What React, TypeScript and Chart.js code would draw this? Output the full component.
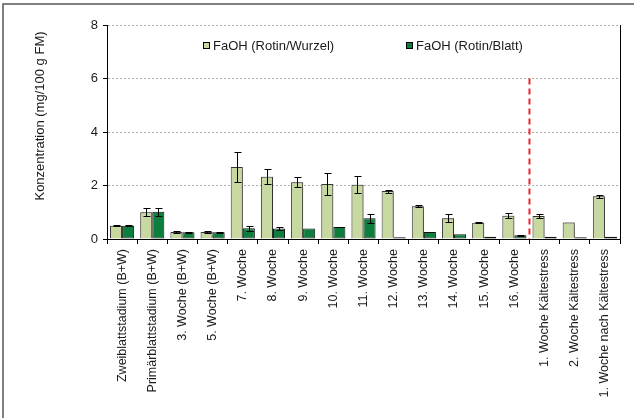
import React, { useEffect, useRef } from "react";
import { Chart, registerables } from "chart.js";

Chart.register(...registerables);

const categories = [
  "Zweiblattstadium (B+W)",
  "Primärblattstadium (B+W)",
  "3. Woche (B+W)",
  "5. Woche (B+W)",
  "7. Woche",
  "8. Woche",
  "9. Woche",
  "10. Woche",
  "11. Woche",
  "12. Woche",
  "13. Woche",
  "14. Woche",
  "15. Woche",
  "16. Woche",
  "1. Woche Kältestress",
  "2. Woche Kältestress",
  "1. Woche nach Kältestress",
];

const wurzelValues = [0.5, 1.0, 0.26, 0.26, 2.69, 2.33, 2.12, 2.06, 2.03, 1.79, 1.22, 0.78, 0.61, 0.87, 0.86, 0.62, 1.6];
const wurzelErrors = [0.03, 0.15, 0.03, 0.03, 0.55, 0.28, 0.18, 0.4, 0.32, 0.06, 0.04, 0.14, 0.01, 0.1, 0.09, 0, 0.05];
const blattValues = [0.5, 1.02, 0.25, 0.25, 0.4, 0.39, 0.39, 0.45, 0.78, 0.07, 0.26, 0.18, 0.08, 0.14, 0.08, 0.07, 0.08];
const blattErrors = [0.03, 0.15, 0.03, 0.03, 0.1, 0.05, 0, 0.01, 0.17, 0, 0, 0, 0, 0.01, 0, 0, 0];

const seriesNames = ["FaOH (Rotin/Wurzel)", "FaOH (Rotin/Blatt)"];
const yMin = 0;
const yMax = 8;
const yStep = 2;
const yTitle = "Konzentration (mg/100 g FM)";
const markerAfterIndex = 13; // dashed line between this category and the next
const markerTopValue = 6;

const FONT = "'Liberation Sans', Arial, Helvetica, sans-serif";
const LIGHT = "#c7d9a0";
const DARK = "#0c7f3e";

const shadowPlugin = {
  id: "barShadow",
  beforeDatasetDraw(chart: any, args: any) {
    const ctx = chart.ctx;
    ctx.save();
    if (args.index === 0) {
      ctx.shadowColor = "rgba(0,0,0,0.3)";
      ctx.shadowOffsetX = 1;
      ctx.shadowOffsetY = -1;
      ctx.shadowBlur = 1;
    }
  },
  afterDatasetDraw(chart: any) {
    chart.ctx.restore();
  },
};

const errorBarPlugin = {
  id: "errorBars",
  afterDatasetsDraw(chart: any) {
    const ctx = chart.ctx;
    const y = chart.scales.y;
    const errs = [wurzelErrors, blattErrors];
    chart.data.datasets.forEach((ds: any, di: number) => {
      const meta = chart.getDatasetMeta(di);
      meta.data.forEach((bar: any, i: number) => {
        const e = errs[di][i];
        if (!e) return;
        const v = ds.data[i];
        const x = Math.round(bar.x) + 0.5;
        const yt = Math.round(y.getPixelForValue(v + e)) + 0.5;
        const yb = Math.round(y.getPixelForValue(Math.max(0, v - e))) + 0.5;
        ctx.save();
        ctx.strokeStyle = "#000";
        ctx.lineWidth = 1;
        ctx.beginPath();
        ctx.moveTo(x, yt);
        ctx.lineTo(x, yb);
        ctx.moveTo(x - 3, yt);
        ctx.lineTo(x + 4, yt);
        ctx.moveTo(x - 3, yb);
        ctx.lineTo(x + 4, yb);
        ctx.stroke();
        ctx.restore();
      });
    });
  },
};

const decorPlugin = {
  id: "decor",
  afterDraw(chart: any) {
    const ctx = chart.ctx;
    const area = chart.chartArea;
    const xs = chart.scales.x;
    const ys = chart.scales.y;
    ctx.save();
    // outer frame (top & left)
    ctx.strokeStyle = "#555";
    ctx.lineWidth = 1.5;
    ctx.beginPath();
    ctx.moveTo(3, chart.height);
    ctx.lineTo(3, 4);
    ctx.lineTo(chart.width, 4);
    ctx.stroke();

    // right plot border
    ctx.strokeStyle = "#000";
    ctx.lineWidth = 1;
    const rx = Math.round(area.right) + 0.5;
    ctx.beginPath();
    ctx.moveTo(rx, area.top);
    ctx.lineTo(rx, area.bottom);
    ctx.stroke();

    // red dashed separator
    const mx = (xs.getPixelForValue(markerAfterIndex) + xs.getPixelForValue(markerAfterIndex + 1)) / 2;
    ctx.strokeStyle = "#e8262b";
    ctx.lineWidth = 2;
    ctx.setLineDash([6, 4]);
    ctx.beginPath();
    ctx.moveTo(mx, ys.getPixelForValue(markerTopValue));
    ctx.lineTo(mx, ys.getPixelForValue(0));
    ctx.stroke();
    ctx.setLineDash([]);

    // legend
    ctx.font = `13px ${FONT}`;
    ctx.textBaseline = "middle";
    ctx.textAlign = "left";
    const legendItems = [
      { x: 203, color: LIGHT, label: seriesNames[0] },
      { x: 406, color: DARK, label: seriesNames[1] },
    ];
    legendItems.forEach((it) => {
      ctx.fillStyle = it.color;
      ctx.fillRect(it.x, 42, 6, 6);
      ctx.strokeStyle = "#000";
      ctx.lineWidth = 1;
      ctx.strokeRect(it.x + 0.5, 42.5, 6, 6);
      ctx.fillStyle = "#1a1a1a";
      ctx.fillText(it.label, it.x + 10, 46);
    });

    // y title
    ctx.save();
    ctx.translate(40, 116);
    ctx.rotate(-Math.PI / 2);
    ctx.textAlign = "center";
    ctx.textBaseline = "middle";
    ctx.fillStyle = "#1a1a1a";
    ctx.fillText(yTitle, 0, 0);
    ctx.restore();
    ctx.restore();
  },
};

export default function App() {
  const ref = useRef<HTMLCanvasElement | null>(null);

  useEffect(() => {
    document.body.style.margin = "0";
    const canvas = ref.current;
    if (!canvas) return;
    const chart = new Chart(canvas, {
      type: "bar",
      data: {
        labels: categories,
        datasets: [
          {
            label: seriesNames[0],
            data: wurzelValues,
            backgroundColor: LIGHT,
            borderColor: "#3a3a3a",
            borderWidth: 1,
            categoryPercentage: 0.8,
            barPercentage: 1.0,
          },
          {
            label: seriesNames[1],
            data: blattValues,
            backgroundColor: DARK,
            borderColor: "#111",
            borderWidth: 1,
            borderSkipped: false,
            categoryPercentage: 0.8,
            barPercentage: 1.0,
          },
        ],
      },
      options: {
        responsive: false,
        animation: false,
        devicePixelRatio: 1,
        layout: { padding: { top: 25, right: 14, left: 0, bottom: 0 } },
        plugins: { legend: { display: false }, tooltip: { enabled: false } },
        scales: {
          x: {
            type: "category",
            offset: true,
            grid: {
              offset: true,
              drawOnChartArea: false,
              color: "#000",
              tickColor: "#000",
              tickLength: 5,
            },
            border: { color: "#000", width: 1 },
            ticks: {
              autoSkip: false,
              minRotation: 90,
              maxRotation: 90,
              padding: 5,
              color: "#1a1a1a",
              font: { family: FONT, size: 12.5 },
            },
            afterFit: (s: any) => {
              s.height = 179;
            },
          },
          y: {
            min: yMin,
            max: yMax,
            ticks: {
              stepSize: yStep,
              padding: 5,
              color: "#1a1a1a",
              font: { family: FONT, size: 13 },
            },
            grid: {
              color: (c: any) => (c.tick && c.tick.value === 0 ? "rgba(0,0,0,0)" : "#adadad"),
              tickColor: "#000",
              tickLength: 4,
              tickBorderDash: [],
              lineWidth: 1,
            },
            border: { color: "#000", width: 1, dash: [2, 2] },
            afterFit: (s: any) => {
              s.width = 107;
            },
          },
        },
      } as any,
      plugins: [shadowPlugin, errorBarPlugin, decorPlugin],
    });
    return () => chart.destroy();
  }, []);

  return (
    <div style={{ width: 634, height: 418, position: "relative", background: "#fff" }}>
      <canvas ref={ref} width={634} height={418} style={{ display: "block" }} />
    </div>
  );
}
